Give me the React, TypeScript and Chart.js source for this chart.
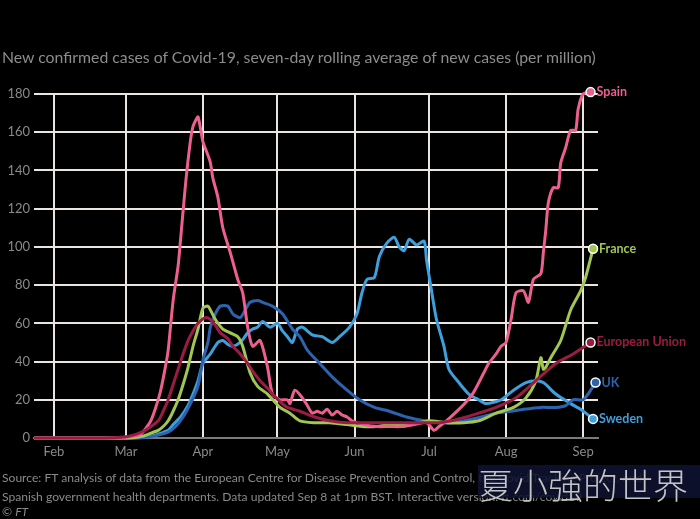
import React, { useEffect, useRef } from "react";
import { Chart, registerables } from "chart.js";

Chart.register(...registerables);

// Days counted from 1 February 2020
const monthLabels = ["Feb", "Mar", "Apr", "May", "Jun", "Jul", "Aug", "Sep"];
const monthDays = [0, 29, 60, 90, 121, 151, 182, 213];
const yTickValues = [0, 20, 40, 60, 80, 100, 120, 140, 160, 180];

const seriesNames = ["European Union", "Spain", "France", "UK", "Sweden"];
const seriesColors = ["#9a1b43", "#ec5f8f", "#a2c651", "#2d63ad", "#3d9fdc"];

const spainDays = [-8, 0, 10, 20, 28, 32, 35, 37, 39, 41, 43, 45, 46, 48, 50, 51, 53, 55, 56, 57, 58, 59, 60, 62, 63, 64, 66, 68, 71, 74, 76, 78, 80, 83, 86, 88, 91, 94, 95, 97, 100, 102, 104, 106, 108, 110, 112, 114, 116, 118, 120, 125, 130, 135, 140, 145, 150, 153, 155, 158, 163, 166, 169, 173, 175, 178, 180, 182, 184, 186, 189, 191, 193, 196, 197, 198, 199, 201, 203, 204, 206, 208, 210, 211, 213, 216];
const spainValues = [0, 0, 0, 0, 0.3, 1, 2, 5, 9, 16, 25, 38, 46, 72, 90, 104, 133, 156, 163, 166, 168, 162, 155, 148, 144, 136, 126, 110, 97, 83, 76, 58, 48, 51, 37, 23, 20, 20, 18, 25, 21, 17, 13, 14, 13, 15, 12, 14, 12, 11, 9, 7, 6, 6, 6, 7, 8, 4, 6, 9, 15, 19, 24, 34, 39, 44, 48, 50, 62, 76, 77, 71, 83, 86, 97, 109, 123, 131, 131, 144, 152, 161, 161, 172, 180, 181];

const franceDays = [-8, 30, 36, 40, 42, 44, 46, 48, 50, 52, 54, 56, 58, 60, 62, 63, 65, 68, 71, 74, 76, 79, 82, 86, 91, 95, 99, 105, 111, 118, 124, 130, 136, 142, 147, 151, 158, 165, 171, 178, 185, 190, 194, 196, 197, 198, 200, 204, 208, 212, 214, 217];
const franceValues = [0, 0, 1, 3, 4, 6, 9, 14, 20, 28, 37, 48, 57, 68, 69, 67, 62, 57, 55, 53, 48, 34, 27, 23, 16, 13, 9, 8, 8, 7, 6, 6, 7, 7, 8, 9, 8, 8, 9, 13, 16, 21, 30, 42, 36, 37, 42, 51, 67, 77, 84, 99];

const euDays = [-8, 20, 28, 32, 35, 38, 42, 44, 46, 48, 50, 52, 54, 56, 58, 61, 63, 65, 67, 70, 72, 75, 78, 80, 83, 86, 88, 91, 94, 99, 105, 111, 118, 124, 135, 145, 155, 160, 166, 171, 178, 186, 194, 202, 209, 216];
const euValues = [0, 0, 0.5, 1.5, 3, 5, 9, 14, 20, 28, 36, 44, 51, 56, 60, 63, 62, 59, 55, 52, 48, 44, 39, 35, 30, 26, 23, 19, 16, 14, 11, 9, 8, 8, 8, 8, 8, 9, 11, 13, 16, 21, 30, 39, 44, 50];

const ukDays = [-8, 30, 38, 42, 46, 49, 52, 55, 58, 60, 62, 63, 65, 67, 70, 72, 75, 77, 79, 82, 84, 88, 92, 96, 99, 102, 107, 112, 118, 123, 129, 135, 142, 149, 155, 160, 165, 172, 178, 184, 189, 196, 202, 206, 209, 213, 215, 218];
const ukValues = [0, 0, 0.5, 1.5, 3, 6, 11, 18, 27, 41, 50, 58, 65, 69, 69, 65, 63, 67, 71, 72, 71, 69, 65, 57, 53, 46, 39, 32, 25, 20, 16, 14, 11, 9, 8, 8, 9, 11, 13, 14, 15, 16, 16, 17, 20, 20, 23, 29];

const swedenDays = [-8, 30, 38, 42, 46, 48, 51, 54, 56, 58, 60, 63, 66, 68, 70, 72, 75, 78, 80, 82, 84, 87, 90, 92, 94, 96, 98, 100, 104, 108, 112, 115, 119, 122, 124, 126, 129, 131, 134, 137, 139, 141, 143, 146, 149, 150, 152, 154, 157, 159, 163, 167, 171, 174, 180, 185, 190, 194, 197, 202, 208, 212, 217];
const swedenValues = [0, 0, 0.5, 2, 4, 7, 11, 17, 23, 30, 39, 44, 50, 51, 49, 48, 50, 55, 57, 58, 61, 58, 60, 56, 53, 50, 57, 58, 54, 53, 50, 53, 58, 65, 76, 83, 84, 95, 102, 105, 100, 98, 104, 101, 103, 93, 77, 62, 48, 36, 29, 23, 20, 18, 20, 25, 29, 30, 29, 23, 18, 15, 10];

const seriesDays = [euDays, spainDays, franceDays, ukDays, swedenDays];
const seriesValues = [euValues, spainValues, franceValues, ukValues, swedenValues];

const FONT = "Lato, 'Open Sans', sans-serif";

const endLabels = {
  id: "endLabels",
  afterDatasetsDraw(chart: any) {
    const ctx = chart.ctx;
    ctx.save();
    chart.data.datasets.forEach((ds: any, i: number) => {
      const meta = chart.getDatasetMeta(i);
      const pts = meta.data;
      const last = pts[pts.length - 1];
      if (!last) return;
      const x = last.x;
      const y = last.y;
      ctx.beginPath();
      ctx.arc(x, y, 4.5, 0, Math.PI * 2);
      ctx.fillStyle = ds.borderColor;
      ctx.fill();
      ctx.lineWidth = 1.5;
      ctx.strokeStyle = "#ffffff";
      ctx.stroke();
      ctx.font = `bold 12.5px ${FONT}`;
      ctx.fillStyle = ds.borderColor;
      ctx.textAlign = "left";
      ctx.textBaseline = "middle";
      ctx.fillText(ds.label, x + 6, y);
    });
    ctx.restore();
  },
};

export default function App() {
  const ref = useRef<HTMLCanvasElement | null>(null);

  useEffect(() => {
    if (!ref.current) return;
    const datasets = seriesNames.map((name, i) => ({
      label: name,
      data: seriesDays[i].map((d, j) => ({ x: d, y: seriesValues[i][j] })),
      borderColor: seriesColors[i],
      backgroundColor: seriesColors[i],
      borderWidth: 3,
      pointRadius: 0,
      tension: 0.25,
      clip: false as any,
      order: i,
    }));
    const gridColor = "#ece4df";
    const chart = new Chart(ref.current, {
      type: "line",
      data: { datasets },
      plugins: [endLabels],
      options: {
        animation: false,
        responsive: false,
        layout: { padding: { top: 94, left: 0, right: 102, bottom: 56 } },
        plugins: {
          legend: { display: false },
          tooltip: { enabled: false },
          title: { display: false },
        },
        scales: {
          x: {
            type: "linear",
            min: -8,
            max: 219,
            afterBuildTicks: (scale: any) => {
              scale.ticks = monthDays.map((v) => ({ value: v }));
            },
            afterFit: (scale: any) => {
              scale.height = 25;
            },
            ticks: {
              color: "#8a8a8a",
              font: { family: FONT, size: 13 },
              padding: 6,
              maxRotation: 0,
              autoSkip: false,
              callback: (v: any) => {
                const idx = monthDays.indexOf(Number(v));
                return idx >= 0 ? monthLabels[idx] : "";
              },
            },
            grid: { color: gridColor, lineWidth: 2, drawTicks: false },
            border: { display: true, color: "#7a7a7a", width: 2 },
          },
          y: {
            type: "linear",
            min: 0,
            max: 180,
            afterBuildTicks: (scale: any) => {
              scale.ticks = yTickValues.map((v) => ({ value: v }));
            },
            afterFit: (scale: any) => {
              scale.width = 34;
            },
            ticks: {
              color: "#8a8a8a",
              font: { family: FONT, size: 13 },
              padding: 4,
            },
            grid: {
              color: (c: any) => (c.tick && c.tick.value === 0 ? "rgba(0,0,0,0)" : gridColor),
              lineWidth: 2,
              drawTicks: false,
            },
            border: { display: false },
          },
        },
      },
    });
    return () => chart.destroy();
  }, []);

  const srcStyle: React.CSSProperties = {
    position: "absolute",
    left: 2,
    fontSize: 12.1,
    lineHeight: "16px",
    color: "#8a8a8a",
    whiteSpace: "nowrap",
  };

  return (
    <div
      style={{
        position: "fixed",
        left: 0,
        top: 0,
        width: 700,
        height: 519,
        background: "#000",
        overflow: "hidden",
        fontFamily: FONT,
      }}
    >
      <canvas ref={ref} width={700} height={519} style={{ position: "absolute", left: 0, top: 0, width: 700, height: 519 }} />
      <div style={{ position: "absolute", left: 2, top: 48, fontSize: 15.8, lineHeight: "18px", color: "#8c8c8c", whiteSpace: "nowrap" }}>
        New confirmed cases of Covid-19, seven-day rolling average of new cases (per million)
      </div>
      <div style={{ ...srcStyle, top: 470 }}>
        Source: FT analysis of data from the European Centre for Disease Prevention and Control, the Covid Tracking Project, and
      </div>
      <div style={{ ...srcStyle, top: 489 }}>
        Spanish government health departments. Data updated Sep 8 at 1pm BST. Interactive version: ft.com/covid19
      </div>
      <div style={{ ...srcStyle, top: 504 }}>
        © <i>FT</i>
      </div>
      <div
        style={{
          position: "absolute",
          left: 478,
          top: 465,
          width: 222,
          height: 33,
          background: "rgba(14,18,48,0.88)",
          color: "#c4c4c4",
          fontFamily: "'Noto Sans CJK TC', sans-serif",
          fontWeight: 300,
          fontSize: 35,
          lineHeight: "38px",
          whiteSpace: "nowrap",
          overflow: "visible",
        }}
      >
        夏小強的世界
      </div>
    </div>
  );
}
